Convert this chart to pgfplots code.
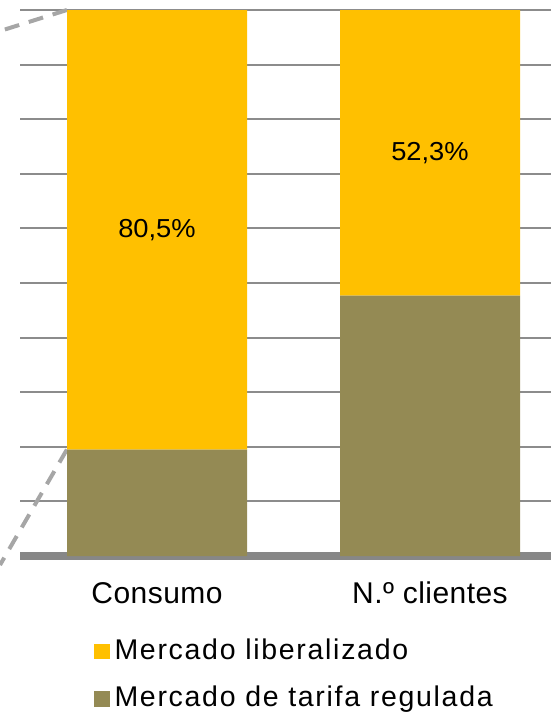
\documentclass[border=0pt]{standalone}
\usepackage{pgfplots}
\pgfplotsset{compat=1.18}
\usepackage{fontspec}
\setmainfont{Liberation Sans}
\newfontfamily\spaced[LetterSpace=6]{Liberation Sans}
\newfontfamily\spacedb[LetterSpace=1.5]{Liberation Sans}
\definecolor{gold}{HTML}{FFC000}
\definecolor{olivec}{HTML}{948A54}
\definecolor{gridgray}{HTML}{8C8C8C}
\definecolor{basegray}{HTML}{878787}
\definecolor{dashgray}{HTML}{A6A6A6}
\newcommand{\sq}[1]{\textcolor{#1}{\rule{15.5pt}{15.5pt}}\hspace{5pt}}
\begin{document}
\begin{tikzpicture}
\begin{axis}[
  scale only axis, width=531pt, height=546pt,
  xmin=-0.50183, xmax=1.44322, ymin=0, ymax=100,
  ybar stacked, bar width=180pt,
  clip=false,
  axis x line=bottom, axis y line*=left,
  y axis line style={draw=none},
  x axis line style={draw=basegray, line width=8pt, -},
  xtick={0,1}, xticklabels={Consumo, N.º clientes},
  ytick={10,20,...,100}, yticklabels={},
  major tick length=0pt,
  ymajorgrids, grid style={draw=gridgray, line width=2pt},
  xticklabel style={font=\fontsize{30pt}{36pt}\spacedb, anchor=base, yshift=-47pt},
  reverse legend,
  legend cell align=left,
  legend style={at={(axis description cs:0.1394,-0.1529)}, anchor=north west,
    draw=none, fill=none, inner sep=0pt, outer sep=0pt,
    row sep=21.5pt, column sep=0pt,
    font=\fontsize{28.5pt}{34pt}\spaced,
    nodes={inner sep=0pt, text height=20pt, text depth=6pt}},
  legend image code/.code={},
]
\addplot[fill=olivec, draw=none] coordinates {(0,19.5) (1,47.7)};
\addlegendentry{\sq{olivec}Mercado de tarifa regulada}
\addplot[fill=gold, draw=none] coordinates {(0,80.5) (1,52.3)};
\addlegendentry{\sq{gold}Mercado liberalizado}
\coordinate (la) at (axis cs:0,59.75);
\coordinate (lb) at (axis cs:1,73.85);
\draw[dashgray, line width=4pt, dash pattern=on 15pt off 10pt] (axis cs:-0.33,100) -- (axis cs:-0.5751,96.15);
\draw[dashgray, line width=4pt, dash pattern=on 15pt off 10pt] (axis cs:-0.33,19.5) -- (axis cs:-0.5751,-1.65);
\coordinate (tl) at (axis cs:-0.5751,101.832);
\coordinate (br) at (axis cs:1.44322,-28.938);
\end{axis}
\node[font=\fontsize{26pt}{31pt}\selectfont, xscale=1.05] at (la) {80,5\%};
\node[font=\fontsize{26pt}{31pt}\selectfont, xscale=1.05] at (lb) {52,3\%};
\pgfresetboundingbox
\path[use as bounding box] (tl) rectangle (br);
\end{tikzpicture}
\end{document}
